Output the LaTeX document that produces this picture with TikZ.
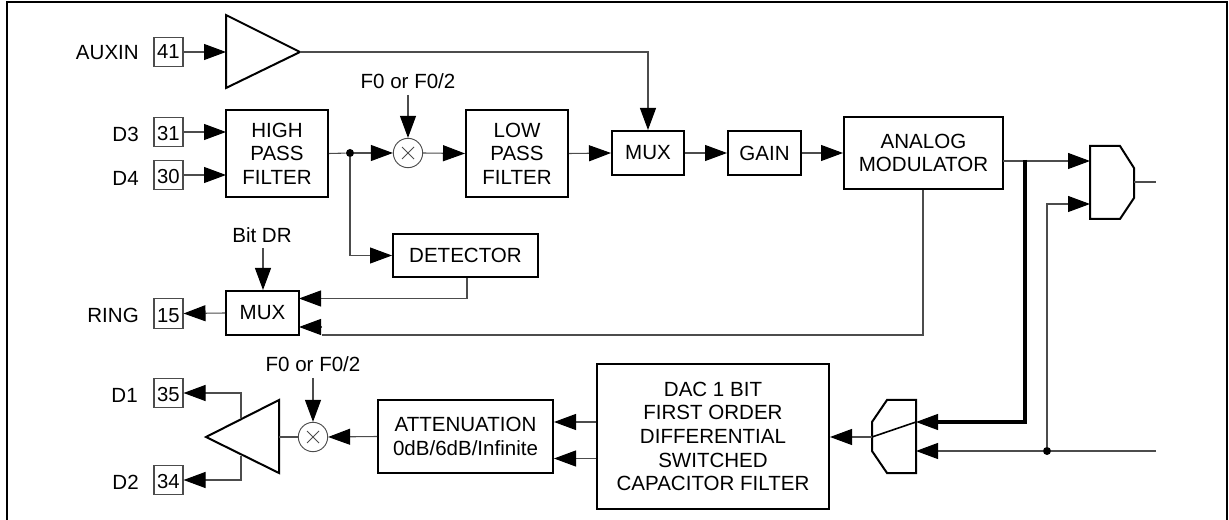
\documentclass[tikz,border=0pt]{standalone}
\usepackage{fontspec}
\setmainfont{Liberation Sans}
\usetikzlibrary{arrows.meta,calc}
\definecolor{wire}{gray}{0.3}
\tikzset{
 x=0.75pt,y=-0.75pt,
 wirel/.style={draw=wire,line width=0.8pt},
 sig/.style={wirel,-{Triangle[length=16.5pt,width=12pt,fill=black,color=black,sep=0pt]}},
 thick sig/.style={draw=black,line width=3pt,-{Triangle[length=16.5pt,width=12pt,line width=0.8pt,fill=black,sep=0pt]}},
 blockbox/.style={draw=black,line width=1.5pt,align=center,inner sep=0pt,font=\fontsize{15.4pt}{17.7pt}\selectfont},
 pinbox/.style={draw=wire,line width=0.8pt,inner sep=0pt,minimum width=21.75pt,minimum height=22pt,font=\fontsize{15.2pt}{15.2pt}\selectfont},
 lab/.style={font=\fontsize{15.4pt}{17pt}\selectfont,inner sep=0pt},
 mixer/.style={circle,draw=wire,line width=0.7pt,minimum size=22pt,inner sep=0pt},
 jdot/.style={circle,fill=black,minimum size=6pt,inner sep=0pt},
 shapeline/.style={draw=black,line width=1.5pt,line join=miter}
}
\newcommand{\blockat}[6]{\node[blockbox,minimum width={(#3-#2)*0.75pt},minimum height={(#5-#4)*0.75pt}] (#1) at ({(#2+#3)/2},{(#4+#5)/2}) {#6};}
\newcommand{\dnn}[1]{\raisebox{-1.5pt}[\height][\depth]{#1}}
\begin{document}
\begin{tikzpicture}
\useasboundingbox (0,0) rectangle (1229,520);
\draw[black,line width=1.6pt] (7,520) -- (7,2) -- (1227,2) -- (1227,520);
% labels
\node[lab,anchor=east] (lauxin) at (139,53) {AUXIN};
\node[lab,anchor=east] (ld3) at (139,134) {D3};
\node[lab,anchor=east] (ld4) at (139,178) {D4};
\node[lab,anchor=east] (lring) at (139,315) {RING};
\node[lab,anchor=east] (ld1) at (138,395) {D1};
\node[lab,anchor=east] (ld2) at (139,482) {D2};
% pins
\node[pinbox] (p41) at (168.5,52) {41};
\node[pinbox] (p31) at (168.5,132) {\dnn{31}};
\node[pinbox] (p30) at (168.5,175) {\dnn{30}};
\node[pinbox] (p15) at (168.5,313.5) {\dnn{15}};
\node[pinbox] (p35) at (168.5,393) {\dnn{35}};
\node[pinbox] (p34) at (168.5,480) {\dnn{34}};
% blocks
\blockat{hpf}{226}{328}{110}{197}{HIGH\\PASS\\FILTER}
\blockat{lpf}{466}{568}{110}{197}{LOW\\PASS\\FILTER}
\blockat{mux}{612}{684}{131}{175}{MUX}
\blockat{gain}{728}{801}{131}{175}{GAIN}
\blockat{mod}{844}{1003}{117}{189}{ANALOG\\MODULATOR}
\blockat{det}{393}{538}{234}{277}{DETECTOR}
\blockat{rmux}{226}{299}{291}{335}{MUX}
\blockat{att}{378}{553}{400}{473}{ATTENUATION\\0dB/6dB/Infinite}
\blockat{dac}{597}{829}{364}{509}{DAC 1 BIT\\FIRST ORDER\\DIFFERENTIAL\\SWITCHED\\CAPACITOR FILTER}
% mixers
\node[mixer] (m1) at (408,153) {};
\node[mixer] (m2) at (313,437) {};
\draw[wirel,line width=0.6pt] ($(m1)+(-6,-6)$)--($(m1)+(6,6)$) ($(m1)+(6,-6)$)--($(m1)+(-6,6)$);
\draw[wirel,line width=0.6pt] ($(m2)+(-6,-6)$)--($(m2)+(6,6)$) ($(m2)+(6,-6)$)--($(m2)+(-6,6)$);
\node[lab] (f1) at (408,81) {F0 or F0/2};
\node[lab] (f2) at (313,364) {F0 or F0/2};
\node[lab] (bdr) at (262,235) {Bit DR};
\coordinate (f1b) at (408,95);
\coordinate (f2b) at (313,378);
\coordinate (bdrb) at (263,248);
% amps and gates
\draw[shapeline] (226,15) -- (226,88) -- (300,52) coordinate (a1e) -- cycle;
\coordinate (a1in) at (226,52);
\draw[shapeline] (279,400) -- (279,473) -- (206,437) -- cycle;
\coordinate (a2e) at (279,437);
\coordinate (a2u) at (241,418.5);
\coordinate (a2d) at (241,455.5);
\draw[shapeline] (1090,146) -- (1120,146) -- (1134,168) -- (1134,198) -- (1120,219) -- (1090,219) -- cycle;
\coordinate (g1a) at (1090,161);
\coordinate (g1b) at (1090,204);
\coordinate (g1o) at (1134,182);
\coordinate (g1end) at (1156,182);
\draw[shapeline] (916,400) -- (887,400) -- (872,422) -- (872,451) -- (887,473) -- (916,473) -- cycle;
\coordinate (g2a) at (916,422);
\coordinate (g2b) at (916,451);
\coordinate (g2o) at (872,437);
\coordinate (g2end) at (1156,451);
\draw[black,line width=1.2pt] (g2a) -- (g2o);
% junctions
\node[jdot] (j1) at (350,153) {};
\node[jdot] (j2) at (1047,451) {};
% connectors
\draw[sig] (p41.east) -- (a1in);
\draw[sig] (p31.east) -- (226,132);
\draw[sig] (p30.east) -- (226,175);
\draw[sig] (a1e) -| (mux.north);
\draw[wirel] (hpf.east) -- (j1);
\draw[sig] (j1) -- (m1.west);
\draw[sig] (f1b) -- (m1.north);
\draw[sig] (m1.east) -- (lpf.west);
\draw[sig] (lpf.east) -- (mux.west);
\draw[sig] (mux.east) -- (gain.west);
\draw[sig] (gain.east) -- (mod.west);
\draw[sig] (j1) |- (det.west);
\draw[sig] (bdrb) -- (rmux.north -| bdrb);
\draw[sig] (det.south -| 467,0) |- (299,298.5);
\coordinate (rb) at (322,335);
\draw[wirel] (mod.south -| 923,0) |- (rb);
\draw[sig] (322,327) -- (299,327);
\draw[sig] (rmux.west) -- (p15.east);
\draw[sig] (1003,161) -- (g1a);
\draw[thick sig] (1025,160) |- (g2a);
\draw[sig] (j2) |- (g1b);
\draw[wirel] (g1o) -- (g1end);
\draw[wirel] (g2end) -- (j2);
\draw[sig] (j2) -- (g2b);
\draw[sig] (g2o) -- (dac.east |- g2o);
\draw[sig] (dac.west |- 0,422) -- (att.east |- 0,422);
\draw[sig] (dac.west |- 0,458.5) -- (att.east |- 0,458.5);
\draw[sig] (att.west) -- (m2.east);
\draw[sig] (f2b) -- (m2.north);
\draw[wirel] (m2.west) -- (a2e);
\draw[sig] (a2u) |- (p35.east);
\draw[sig] (a2d) |- (p34.east);
\end{tikzpicture}
\end{document}
